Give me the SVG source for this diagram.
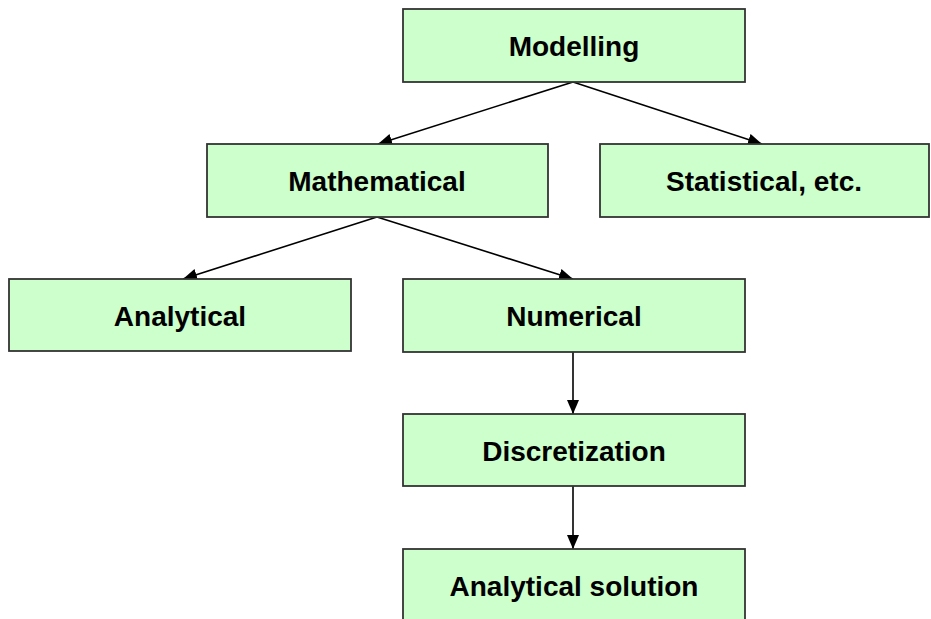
<svg xmlns="http://www.w3.org/2000/svg" width="931" height="619" viewBox="0 0 931 619">
<defs>
<style>
.box{fill:#ccffcc;stroke:#333333;stroke-width:1.8}
.lbl{font-family:"Liberation Sans",Arial,sans-serif;font-weight:bold;font-size:28px;fill:#000;text-anchor:middle}
.con{stroke:#000;stroke-width:1.6;fill:none;marker-end:url(#ah)}
</style>
<marker id="ah" viewBox="0 0 14 12" refX="14" refY="6" markerWidth="14" markerHeight="12" markerUnits="userSpaceOnUse" orient="auto">
<path d="M0,0 L14,6 L0,12 z" fill="#000"/>
</marker>
</defs>
<rect width="931" height="619" fill="#fff"/>
<g id="connectors">
<line class="con" x1="573" y1="82" x2="378" y2="144"/>
<line class="con" x1="573" y1="82" x2="762" y2="144"/>
<line class="con" x1="377" y1="217" x2="183" y2="279"/>
<line class="con" x1="377" y1="217" x2="573" y2="279"/>
<line class="con" x1="573" y1="352" x2="573" y2="414"/>
<line class="con" x1="573" y1="486" x2="573" y2="549"/>
</g>
<g id="modelling"><rect class="box" x="403" y="9" width="342" height="73"/><text class="lbl" x="574" y="56">Modelling</text></g>
<g id="mathematical"><rect class="box" x="207" y="144" width="341" height="73"/><text class="lbl" x="377" y="191">Mathematical</text></g>
<g id="statistical"><rect class="box" x="600" y="144" width="329" height="73"/><text class="lbl" x="764" y="191">Statistical, etc.</text></g>
<g id="analytical"><rect class="box" x="9" y="279" width="342" height="72"/><text class="lbl" x="180" y="326">Analytical</text></g>
<g id="numerical"><rect class="box" x="403" y="279" width="342" height="73"/><text class="lbl" x="574" y="326">Numerical</text></g>
<g id="discretization"><rect class="box" x="403" y="414" width="342" height="72"/><text class="lbl" x="574" y="461">Discretization</text></g>
<g id="solution"><rect class="box" x="403" y="549" width="342" height="80"/><text class="lbl" x="574" y="596">Analytical solution</text></g>
</svg>
